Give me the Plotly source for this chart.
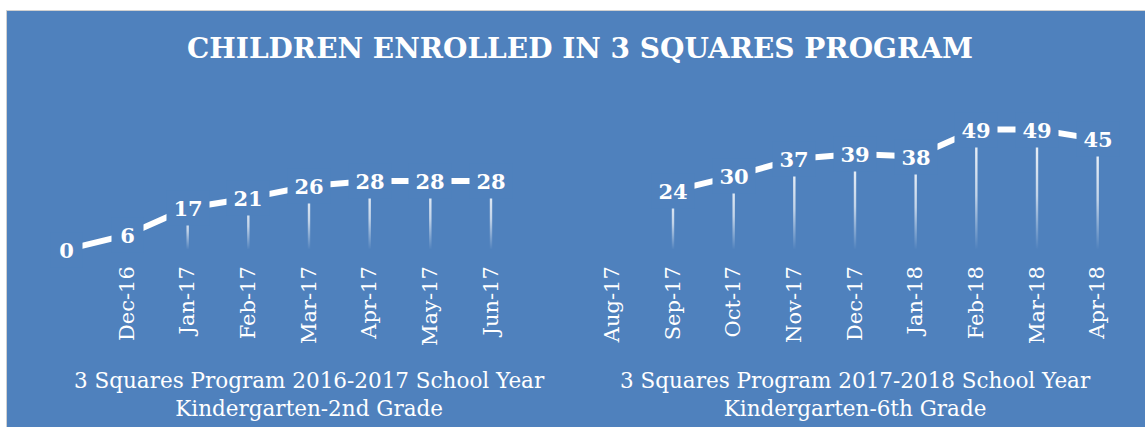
import plotly.graph_objects as go

# ---- data ----
months_1617 = ["", "Dec-16", "Jan-17", "Feb-17", "Mar-17", "Apr-17", "May-17", "Jun-17", ""]
enrolled_1617 = [0, 6, 17, 21, 26, 28, 28, 28, None]
months_1718 = ["Aug-17", "Sep-17", "Oct-17", "Nov-17", "Dec-17", "Jan-18", "Feb-18", "Mar-18", "Apr-18"]
enrolled_1718 = [None, 24, 30, 37, 39, 38, 49, 49, 45]
group_labels = [
    "3 Squares Program 2016-2017 School Year<br>Kindergarten-2nd Grade",
    "3 Squares Program 2017-2018 School Year<br>Kindergarten-6th Grade",
]
title_text = "CHILDREN ENROLLED IN 3 SQUARES PROGRAM"

# ---- build ----
BG = "#4F81BD"
FONT = "DejaVu Serif"
labels = months_1617 + months_1718
values = enrolled_1617 + enrolled_1718
idx = list(range(len(labels)))
groups = [list(range(0, len(months_1617))),
          list(range(len(months_1617), len(labels)))]

W, H = 1145, 427
ML, MR, MT, MB = 36, 17, 110, 170
PW, PH = W - ML - MR, H - MT - MB

fig = go.Figure()

# drop lines (gradient fading downwards)
half = 1.2 / (PW / len(labels))
for i, v in zip(idx, values):
    if v is None or v <= 0:
        continue
    fig.add_trace(go.Scatter(
        x=[i - half, i + half, i + half, i - half, i - half],
        y=[0, 0, v, v, 0],
        mode="lines", line=dict(width=0), fill="toself",
        fillgradient=dict(type="vertical",
                          colorscale=[[0, "rgba(255,255,255,0)"],
                                      [0.45, "rgba(255,255,255,0.65)"],
                                      [1, "rgba(255,255,255,0.95)"]]),
        hoverinfo="skip", showlegend=False))

# main line
fig.add_trace(go.Scatter(
    x=idx, y=values, mode="lines",
    line=dict(color="white", width=6),
    cliponaxis=False, connectgaps=False, showlegend=False,
    hoverinfo="skip"))

# data labels with background boxes (cover line and drop lines like Excel)
for i, v in zip(idx, values):
    if v is None:
        continue
    t = str(v)
    fig.add_annotation(
        x=i, y=v, xref="x", yref="y", text=f"<b>{t}</b>", showarrow=False,
        xanchor="center", yanchor="middle",
        width=20 + 11 * len(t), height=34, borderpad=0,
        bgcolor=BG, align="center",
        font=dict(family=FONT, size=21, color="white"))

# group labels
for g, lab in zip(groups, group_labels):
    fig.add_annotation(
        x=sum(g) / len(g), xref="x",
        y=-(394.5 - (H - MB)) / PH,
        yref="paper", yanchor="middle", xanchor="center",
        text=lab, showarrow=False, align="center",
        font=dict(family=FONT, size=21.5, color="white"))

# background panel with thin border
fig.add_shape(type="rect", xref="paper", yref="paper",
              x0=(6.5 - ML) / PW, x1=1.05, y0=-2.0, y1=(H - MB - 10.5) / PH,
              fillcolor=BG, line=dict(color="#D0D0D0", width=1), layer="below")

fig.update_layout(
    width=W, height=H,
    margin=dict(l=ML, r=MR, t=MT, b=MB, autoexpand=False),
    paper_bgcolor="white", plot_bgcolor="rgba(0,0,0,0)",
    title=dict(text=title_text, x=580 / W, xanchor="center",
               y=1 - 48 / H, yanchor="middle", yref="container",
               font=dict(family=FONT, size=28, color="white", weight="bold")),
    xaxis=dict(range=[-0.5, len(labels) - 0.5], tickmode="array",
               tickvals=idx, ticktext=labels, tickangle=-90,
               showgrid=False, zeroline=False, showline=False, ticks="",
               ticklabelstandoff=4, automargin=False,
               tickfont=dict(family=FONT, size=21, color="white")),
    yaxis=dict(range=[-3, 57], visible=False, showgrid=False, zeroline=False),
    showlegend=False,
)

fig.write_html("out.html", config={"displayModeBar": False},
               post_script="document.body.style.margin='0';document.body.style.padding='0';")
